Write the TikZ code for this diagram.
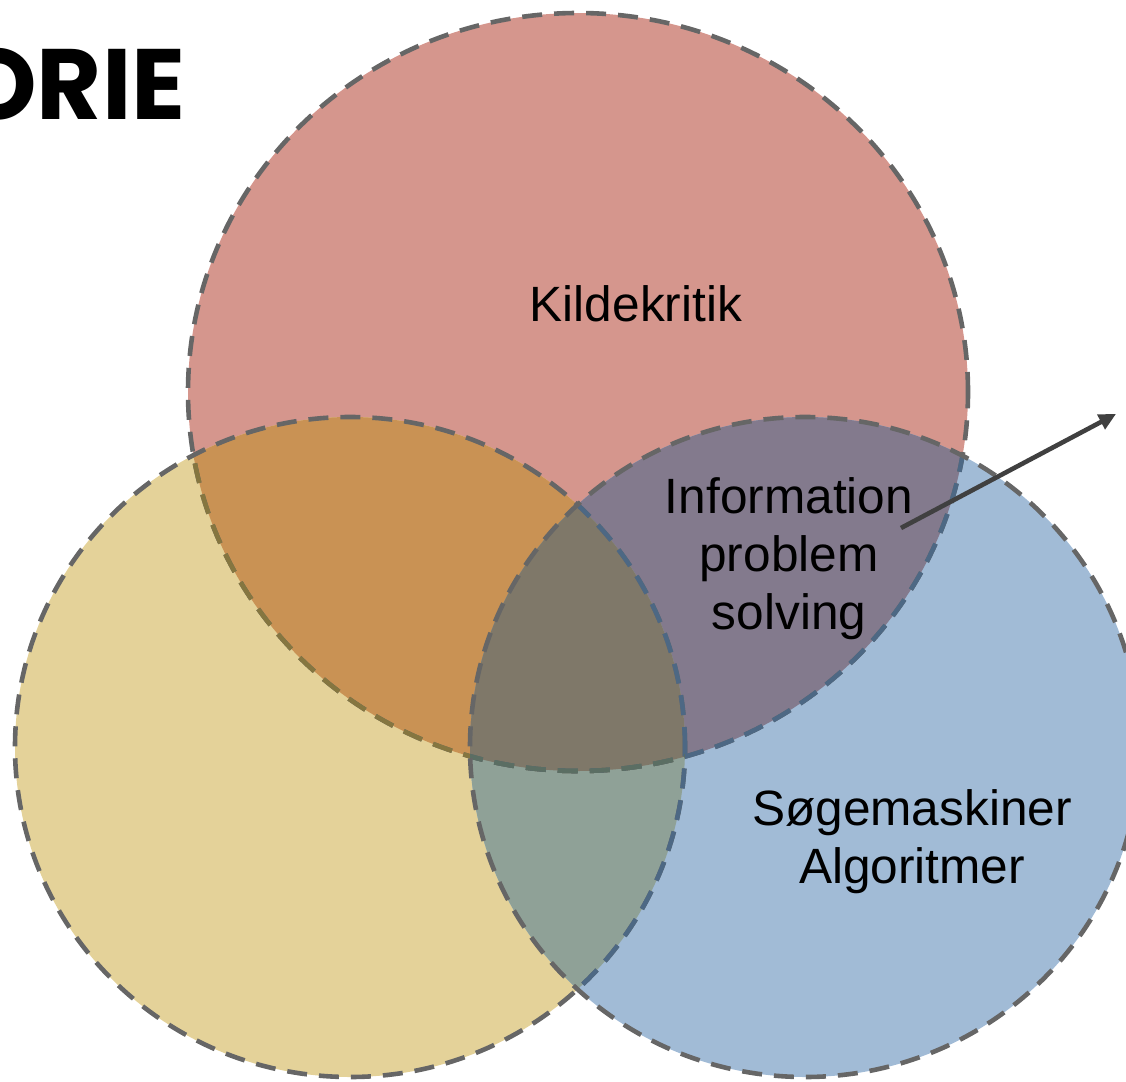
\documentclass[tikz,border=0pt]{standalone}
\usepackage{fontspec}
\setmainfont{Liberation Sans}
\newfontfamily\titlefont{Poppins}
\usetikzlibrary{arrows.meta, positioning}

\definecolor{kilderod}{HTML}{D5968D}
\definecolor{gul}{HTML}{E4D299}
\definecolor{blaa}{HTML}{A1BBD6}
\definecolor{rodgul}{HTML}{C99254}
\definecolor{rodblaa}{HTML}{837A8D}
\definecolor{gulblaa}{HTML}{8FA197}
\definecolor{midte}{HTML}{7F7869}
\definecolor{olivkant}{HTML}{857640}
\definecolor{blaakant}{HTML}{4D6884}
\definecolor{groenkant}{HTML}{5B6E63}

\newcommand{\rodcirkel}{(578,392) ellipse [x radius=390pt, y radius=379pt]}
\newcommand{\gulcirkel}{(350,747) ellipse [x radius=335pt, y radius=330pt]}
\newcommand{\blaacirkel}{(805,747) ellipse [x radius=335pt, y radius=330pt]}

\begin{document}
\begin{tikzpicture}[
  x=1pt, y=-1pt,
  kant/.style={draw=#1, line width=4.6pt, dash pattern=on 20pt off 12pt},
  kant/.default={black!60},
  tekst/.style={font=\fontsize{49.6}{58}\selectfont, align=center, inner sep=0pt},
  pilstreg/.style={-{Triangle[length=17pt, width=16pt]}, draw=black!75, line width=4.6pt}
]
\useasboundingbox (0,0) rectangle (1126,1081);
\clip (0,0) rectangle (1126,1081);

% flader
\fill[kilderod] \rodcirkel;
\fill[gul] \gulcirkel;
\fill[blaa] \blaacirkel;
\begin{scope}
  \clip \rodcirkel;
  \fill[rodgul] \gulcirkel;
  \fill[rodblaa] \blaacirkel;
\end{scope}
\begin{scope}
  \clip \gulcirkel;
  \fill[gulblaa] \blaacirkel;
\end{scope}
\begin{scope}
  \clip \rodcirkel;
  \clip \gulcirkel;
  \fill[midte] \blaacirkel;
\end{scope}

% kanter
\draw[kant] \rodcirkel;
\begin{scope}
  \clip \gulcirkel;
  \draw[kant=olivkant] \rodcirkel;
\end{scope}
\draw[kant] \gulcirkel;
\begin{scope}
  \clip \blaacirkel;
  \draw[kant=blaakant] \rodcirkel;
  \draw[kant=blaakant] \gulcirkel;
  \clip \gulcirkel;
  \draw[kant=groenkant] \rodcirkel;
\end{scope}
\draw[kant] \blaacirkel;

% tekster
\node[anchor=base east, inner sep=0pt, font=\titlefont\bfseries\fontsize{100}{100}\selectfont] (titel) at (186,119) {ORIE};
\node[tekst] (kilde) at (636,304) {Kildekritik};
\node[tekst] (ips) at (789,559) {Information\\problem\\solving};
\node[tekst] (soeg) at (912,842) {Søgemaskiner\\Algoritmer};

% pil
\coordinate (pilstart) at (901,528);
\coordinate (pilslut) at (1116,414);
\draw[pilstreg] (pilstart) -- (pilslut);
\end{tikzpicture}
\end{document}
